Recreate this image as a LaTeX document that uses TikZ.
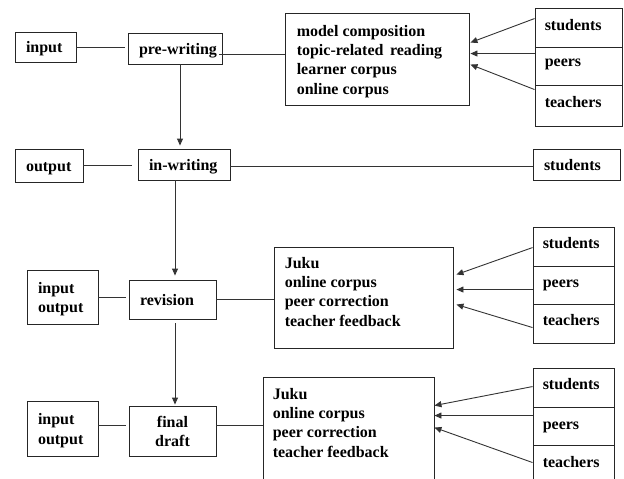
\documentclass[tikz,border=0pt]{standalone}
\usepackage{fontspec}
\setmainfont{Liberation Serif}
\usetikzlibrary{arrows.meta,calc}
\newcommand\tstrut{\rule[-5.79pt]{0pt}{23.3pt}}
\begin{document}
\begin{tikzpicture}[x=1pt,y=-1pt,
  every node/.style={font=\bfseries\fontsize{16}{19.3}\selectfont, text=black},
  box/.style={draw=black!85, line width=0.9pt, rectangle, inner sep=0pt},
  cbox/.style={box, align=left, inner xsep=11pt, inner ysep=0pt},
  txt/.style={inner sep=0pt, anchor=north west, align=left},
  conn/.style={draw=black!80, line width=0.9pt},
  arr/.style={conn, -{Triangle[length=7pt,width=6pt]}}]
\useasboundingbox (0,0) rectangle (624,479);
\clip (0,0) rectangle (624,479);

% ---------- row 1 ----------
\node[cbox, text width=39pt, minimum height=30pt] (inp1) at (45.5,47) {\tstrut input};
\node[cbox, text width=72pt, minimum height=31pt] (pre) at (175,48.5) {\tstrut\mbox{pre-writing}};
\node[box, minimum width=184pt, minimum height=92pt] (model) at (377,59) {};
\node[txt] (modelt) at ($(model.north west)+(12,10)$)
  {\strut model composition\\\strut topic-related\hspace{2.5pt} reading\\\strut learner corpus\\\strut online corpus};
\node[box, minimum width=87pt, minimum height=39pt] (s1) at (578.5,27.5) {};
\node[box, minimum width=87pt, minimum height=38pt] (p1) at (578.5,66) {};
\node[box, minimum width=87pt, minimum height=41pt] (t1) at (578.5,105.5) {};
\node[txt] (s1t) at ($(s1.north west)+(10,9)$) {\strut students};
\node[txt] (p1t) at ($(p1.north west)+(10,6)$) {\strut peers};
\node[txt] (t1t) at ($(t1.north west)+(10,9)$) {\strut teachers};

\draw[conn, shorten >=3pt] (inp1.east) -- (inp1.east -| pre.west);
\draw[conn] ($(pre.east)+(-3,5.5)$) -- ($(model.west)+(0,-5)$);
\draw[arr] ($(s1.north west)+(0,11)$) -- ($(model.north east)+(1,30)$);
\draw[arr] ($(p1.north west)+(0,7)$) -- ($(model.north east)+(1,41)$);
\draw[arr] ($(t1.north west)+(0,5)$) -- ($(model.north east)+(1,52)$);

% ---------- row 2 ----------
\node[cbox, text width=46pt, minimum height=33pt] (out2) at (49,165.5) {\tstrut output};
\node[cbox, text width=70pt, minimum height=31pt] (inw) at (184,164.5) {\tstrut\mbox{in-writing}};
\node[cbox, text width=65pt, minimum height=31pt] (st2) at (576.5,164.5) {\tstrut students};

\coordinate (a1) at ($(pre.south)+(5,0)$);
\draw[arr, shorten >=3pt] (a1) -- (a1 |- inw.north);
\draw[conn, shorten >=6pt] (out2.east) -- (out2.east -| inw.west);
\coordinate (b2) at ($(inw.east)+(0,2)$);
\draw[conn] (b2) -- (b2 -| st2.west);

% ---------- row 3 ----------
\node[cbox, text width=49pt, minimum height=54pt] (io1) at (62.5,297) {\tstrut input\\\strut output};
\node[cbox, text width=65pt, minimum height=39pt] (rev) at (172.5,299.5) {\tstrut revision};
\node[box, minimum width=179pt, minimum height=101pt] (juku1) at (363.5,297.5) {};
\node[txt] (juku1t) at ($(juku1.north west)+(11,8)$)
  {\strut Juku\\\strut online corpus\\\strut peer correction\\\strut teacher feedback};
\node[box, minimum width=81pt, minimum height=39pt] (s2) at (573.5,246.5) {};
\node[box, minimum width=81pt, minimum height=38pt] (p2) at (573.5,285) {};
\node[box, minimum width=81pt, minimum height=39pt] (t2) at (573.5,323.5) {};
\node[txt] (s2t) at ($(s2.north west)+(10,8)$) {\strut students};
\node[txt] (p2t) at ($(p2.north west)+(10,8)$) {\strut peers};
\node[txt] (t2t) at ($(t2.north west)+(10,8)$) {\strut teachers};

\coordinate (a2) at ($(inw.south)+(-9,0)$);
\draw[arr, shorten >=4pt] (a2) -- (a2 |- rev.north);
\draw[conn, shorten >=3pt] (io1.east) -- (io1.east -| rev.west);
\draw[conn] (rev.east) -- (rev.east -| juku1.west);
\draw[arr] ($(s2.north west)+(0,21)$) -- ($(juku1.north east)+(3,28)$);
\draw[arr] ($(p2.north west)+(0,24)$) -- ($(juku1.north east)+(3,43)$);
\draw[arr] ($(t2.north west)+(0,24)$) -- ($(juku1.north east)+(3,58)$);

% ---------- row 4 ----------
\node[cbox, text width=49pt, minimum height=55pt] (io2) at (62.5,428.5) {\tstrut input\\\strut output};
\node[box, align=center, text width=65pt, inner xsep=11pt, minimum height=50pt] (final) at (172.5,431) {\tstrut final\\\strut draft};
\node[box, minimum width=171pt, minimum height=113pt] (juku2) at (348.5,433.5) {};
\node[txt] (juku2t) at ($(juku2.north west)+(10,9)$)
  {\strut Juku\\\strut online corpus\\\strut peer correction\\\strut teacher feedback};
\node[box, minimum width=81pt, minimum height=39pt] (s3) at (573.5,387.5) {};
\node[box, minimum width=81pt, minimum height=38pt] (p3) at (573.5,426) {};
\node[box, minimum width=81pt, minimum height=45pt] (t3) at (573.5,467.5) {};
\node[txt] (s3t) at ($(s3.north west)+(10,8)$) {\strut students};
\node[txt] (p3t) at ($(p3.north west)+(10,9)$) {\strut peers};
\node[txt] (t3t) at ($(t3.north west)+(10,9)$) {\strut teachers};

\coordinate (a3) at ($(rev.south)+(2.5,0)$);
\draw[arr, shorten <=4pt, shorten >=1pt] (a3) -- (a3 |- final.north);
\coordinate (c4) at ($(io2.east)+(0,-3.5)$);
\draw[conn, shorten >=3pt] (c4) -- (c4 -| final.west);
\coordinate (c5) at ($(final.east)+(0,-6)$);
\draw[conn] (c5) -- (c5 -| juku2.west);
\draw[arr] ($(s3.north west)+(0,19)$) -- ($(juku2.north east)+(0,29)$);
\draw[arr] ($(p3.north west)+(0,9)$) -- ($(juku2.north east)+(0,39)$);
\draw[arr] ($(t3.north west)+(0,18)$) -- ($(juku2.north east)+(0,51)$);
\end{tikzpicture}
\end{document}
